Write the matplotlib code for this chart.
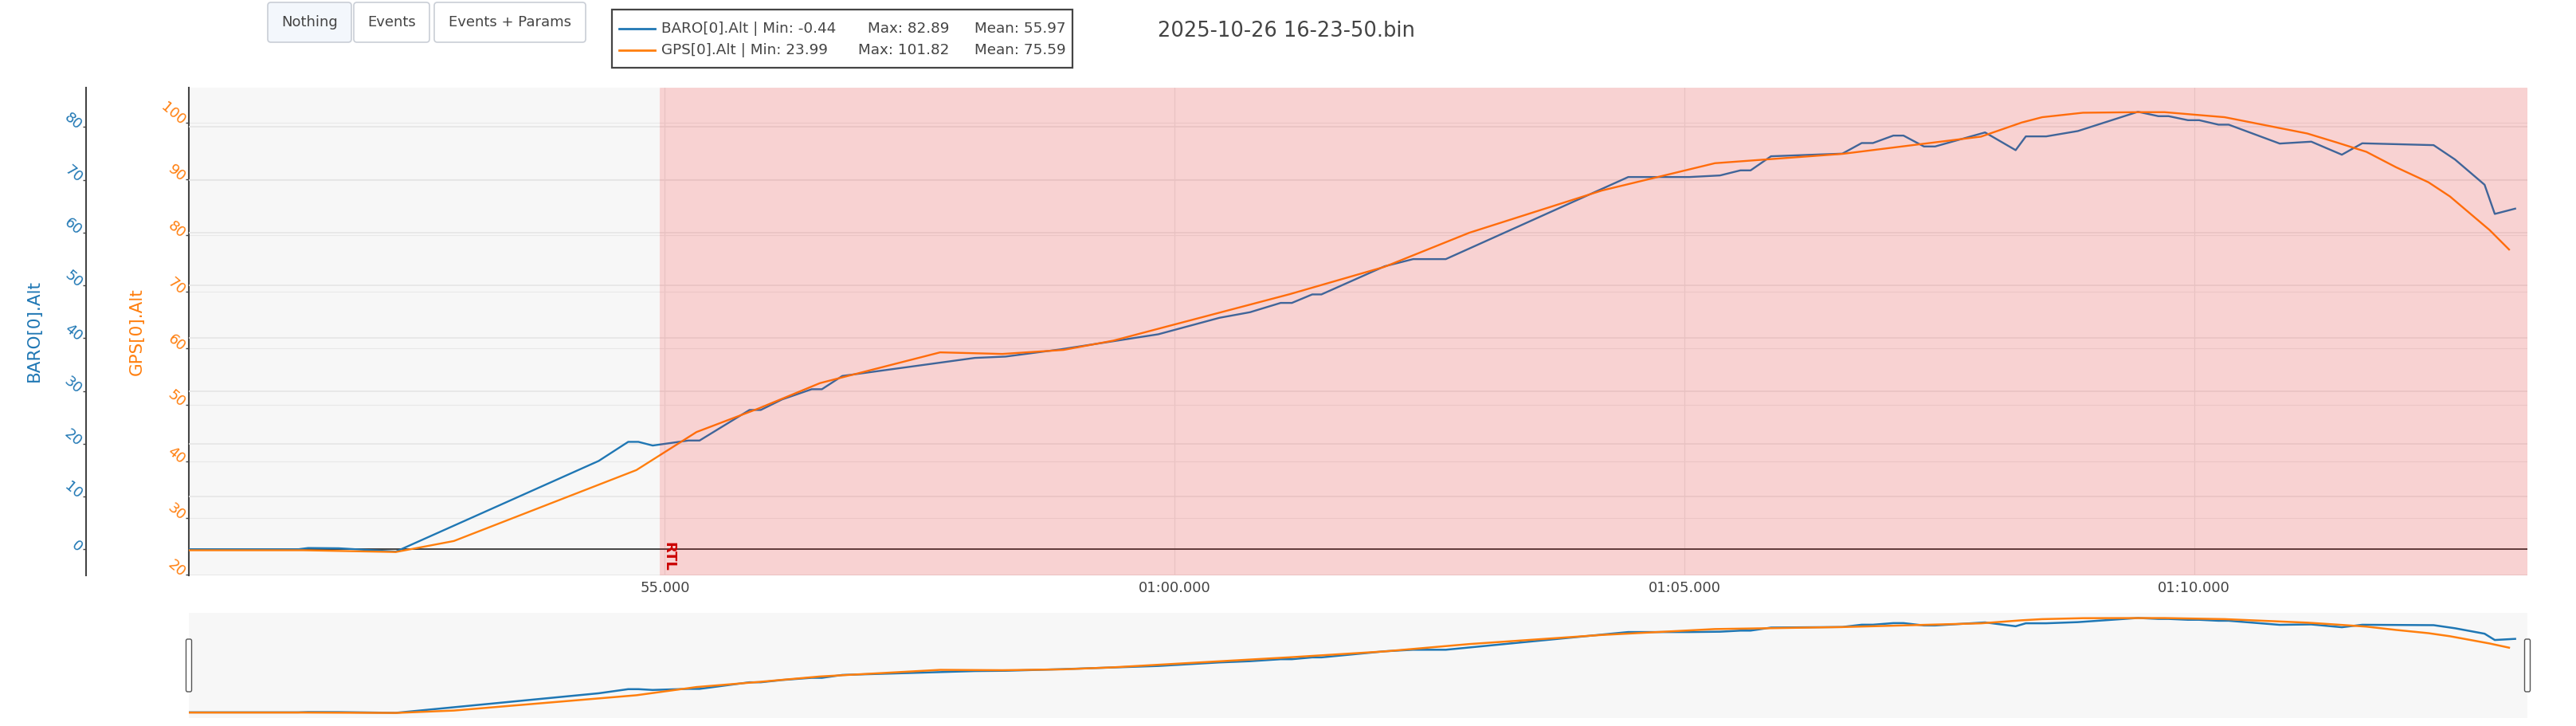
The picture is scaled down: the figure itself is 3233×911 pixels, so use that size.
import matplotlib
matplotlib.use("Agg")
import matplotlib.pyplot as plt
import matplotlib.transforms as mtransforms
from matplotlib.patches import FancyBboxPatch, Rectangle
from matplotlib.lines import Line2D

W, H, DPI = 3233, 911, 100

# ---------------- data ----------------
baro_t = [50.33, 51.40, 51.50, 51.80, 52.36, 54.35, 54.64, 54.74, 54.88, 55.23,
          55.34, 55.83, 55.94, 56.15, 56.44, 56.54, 56.74, 58.04, 58.34, 58.88,
          59.84, 60.44, 60.74, 61.04, 61.15, 61.35, 61.44, 62.06, 62.34, 62.66,
          64.45, 65.05, 65.35, 65.55, 65.65, 65.85, 66.55, 66.74, 66.85, 67.05,
          67.15, 67.35, 67.46, 67.95, 68.25, 68.35, 68.55, 68.86, 69.45, 69.65,
          69.75, 69.94, 70.05, 70.24, 70.34, 70.84, 71.15, 71.45, 71.65, 72.35,
          72.56, 72.85, 72.95, 73.15]
baro_alt = [0.0, 0.0, 0.25, 0.2, -0.44, 16.74, 20.36, 20.36, 19.66, 20.61,
            20.61, 26.4, 26.4, 28.4, 30.33, 30.33, 32.84, 36.26, 36.51, 37.88,
            40.74, 43.86, 44.92, 46.68, 46.68, 48.29, 48.29, 53.62, 54.98, 54.98,
            70.53, 70.53, 70.83, 71.79, 71.79, 74.46, 74.96, 76.97, 76.97, 78.38,
            78.38, 76.32, 76.32, 78.98, 75.62, 78.23, 78.23, 79.24, 82.89, 82.06,
            82.06, 81.3, 81.3, 80.45, 80.45, 76.87, 77.23, 74.76, 76.92, 76.57,
            73.85, 69.07, 63.54, 64.54]

gps_t = [50.33, 51.45, 52.36, 52.93, 54.72, 55.31, 55.92, 56.52, 56.73, 57.70,
         58.31, 58.91, 59.40, 59.87, 61.13, 62.06, 62.89, 64.19, 65.30, 66.55,
         67.91, 68.31, 68.51, 68.91, 69.45, 69.71, 70.30, 71.11, 71.40, 71.69,
         71.98, 72.30, 72.51, 72.90, 73.09]
gps_alt = [24.3, 24.3, 23.99, 25.94, 38.49, 45.22, 49.4, 53.87, 54.85, 59.32,
           59.04, 59.75, 61.4, 63.64, 69.62, 74.46, 80.48, 87.95, 92.79, 94.44,
           97.49, 99.99, 100.93, 101.72, 101.82, 101.82, 100.93, 98.05, 96.46, 94.81,
           92.09, 89.41, 86.91, 80.95, 77.52]

x_range = (50.33, 73.27)
baro_range = (-5.0, 87.4)
gps_range = (19.8, 106.1)
x_ticks = [55, 60, 65, 70]
x_tick_labels = ["55.000", "01:00.000", "01:05.000", "01:10.000"]
baro_ticks = [0, 10, 20, 30, 40, 50, 60, 70, 80]
gps_ticks = [20, 30, 40, 50, 60, 70, 80, 90, 100]

rtl_time = 54.95
rtl_label = "RTL"

series_names = ["BARO[0].Alt", "GPS[0].Alt"]
series_min = ["-0.44", "23.99"]
series_max = ["82.89", "101.82"]
series_mean = ["55.97", "75.59"]
button_labels = ["Nothing", "Events", "Events + Params"]
title_text = "2025-10-26 16-23-50.bin"

BLUE = "#1f77b4"
ORANGE = "#ff7f0e"
TXT = "#444444"
BG = "#f7f7f7"

plt.rcParams['font.family'] = ['DejaVu Sans']

fig = plt.figure(figsize=(W / DPI, H / DPI), dpi=DPI)
fig.patch.set_facecolor("white")
ident = mtransforms.IdentityTransform()

# main plot box in pixels
L, R, T, B = 237, 3172, 110.4, 722.4
pos = [L / W, 1 - B / H, (R - L) / W, (B - T) / H]

# ---- GPS axis (base, background + grids) ----
ax_g = fig.add_axes(pos)
ax_g.set_facecolor(BG)
ax_g.set_xlim(*x_range)
ax_g.set_ylim(*gps_range)
for s in ["top", "right", "bottom"]:
    ax_g.spines[s].set_visible(False)
ax_g.spines["left"].set_color(TXT)
ax_g.spines["left"].set_linewidth(1.5)
ax_g.set_yticks(gps_ticks)
ax_g.set_xticks(x_ticks)
ax_g.set_xticklabels(x_tick_labels)
ax_g.tick_params(axis="y", direction="out", length=3, width=1.0, color=TXT,
                 labelcolor=ORANGE, labelsize=13, pad=2)
ax_g.tick_params(axis="x", length=0, labelsize=13, labelcolor=TXT, pad=5)
ax_g.grid(True, axis="y", color="#e8e8e8", linewidth=0.8)
ax_g.grid(True, axis="x", color="#e4e4e4", linewidth=0.8)
ax_g.set_axisbelow(True)

# ---- BARO axis (twin, offset spine on the left) ----
ax_b = ax_g.twinx()
ax_b.set_ylim(*baro_range)
ax_b.yaxis.set_ticks_position("left")
ax_b.yaxis.set_label_position("left")
ax_b.spines["left"].set_visible(True)
ax_b.spines["left"].set_position(("axes", (107.7 - L) / (R - L)))
ax_b.spines["left"].set_color(TXT)
ax_b.spines["left"].set_linewidth(1.5)
for s in ["top", "right", "bottom"]:
    ax_b.spines[s].set_visible(False)
ax_b.set_yticks(baro_ticks)
ax_b.tick_params(axis="y", which="both", left=True, right=False, labelleft=True,
                 labelright=False, direction="out", length=3, width=1.0, color=TXT,
                 labelcolor=BLUE, labelsize=13, pad=2)
ax_b.set_axisbelow(True)
ax_b.grid(True, axis="y", color="#e4e4e4", linewidth=1.1)
ax_b.axhline(0, color=TXT, lw=1.4, zorder=1.8)
ax_b.plot(baro_t, baro_alt, color=BLUE, lw=1.7, zorder=2)

# ---- top overlay: GPS line, event shading, label ----
ax_top = fig.add_axes(pos, sharex=ax_g, sharey=ax_g)
ax_top.set_axis_off()
ax_top.plot(gps_t, gps_alt, color=ORANGE, lw=1.7, zorder=2)
ax_top.axvspan(rtl_time, x_range[1], facecolor=(1, 0, 0, 0.15),
               edgecolor=(1, 0, 0, 0.06), lw=1.0, zorder=5)
trans = mtransforms.blended_transform_factory(ax_top.transData, ax_top.transAxes)
trans = trans + mtransforms.ScaledTranslation(2.5 / DPI, 0, fig.dpi_scale_trans)
ax_top.text(rtl_time, (B - 680) / (B - T), rtl_label, transform=trans,
            rotation=-90, ha="left", va="top", color="#cc0000",
            fontsize=13, fontweight="bold", zorder=6)
ax_g.set_xlim(*x_range)
ax_g.set_ylim(*gps_range)

# axis titles
fig.text(43 / W, 1 - 415 / H, series_names[0], rotation=90, ha="center",
         va="center", color=BLUE, fontsize=15.5)
fig.text(171.5 / W, 1 - 416 / H, series_names[1], rotation=90, ha="center",
         va="center", color=ORANGE, fontsize=15.5)

# ---- range slider ----
rs_pos = [L / W, 1 - 901 / H, (R - L) / W, (901 - 769) / H]
ax_rs = fig.add_axes(rs_pos)
ax_rs.set_facecolor(BG)
ax_rs.set_xlim(*x_range)
ax_rs.set_ylim(*baro_range)
ax_rs.set_xticks([]); ax_rs.set_yticks([])
for s in ax_rs.spines.values():
    s.set_visible(False)
ax_rs.plot(baro_t, baro_alt, color=BLUE, lw=1.8)
ax_rs2 = ax_rs.twinx()
ax_rs2.set_ylim(*gps_range)
ax_rs2.set_yticks([])
for s in ax_rs2.spines.values():
    s.set_visible(False)
ax_rs2.plot(gps_t, gps_alt, color=ORANGE, lw=1.8)

for hx in (L, R):
    fig.add_artist(FancyBboxPatch((hx - 3.5, H - 868), 7, 66,
                                  boxstyle="round,pad=0,rounding_size=2",
                                  transform=ident, facecolor="white",
                                  edgecolor="#555555", lw=1.0))

# ---- buttons ----
btn_boxes = [(336, 441), (444, 539), (545, 735)]
for (x0, x1), lab, fc in zip(btn_boxes, button_labels, ["#f3f7fc", "white", "white"]):
    fig.add_artist(FancyBboxPatch((x0, H - 53), x1 - x0, 50,
                                  boxstyle="round,pad=0,rounding_size=4",
                                  transform=ident, facecolor=fc,
                                  edgecolor="#c9ced6", lw=1.2))
    fig.text((x0 + x1) / 2 / W, 1 - 28 / H, lab, ha="center", va="center",
             color=TXT, fontsize=13)

# ---- legend ----
fig.add_artist(Rectangle((768, H - 85), 578, 73, transform=ident,
                         facecolor="white", edgecolor=TXT, lw=1.6))
for i, (name, mn, mx, me, col) in enumerate(zip(series_names, series_min, series_max,
                                                 series_mean, [BLUE, ORANGE])):
    yy = 35.7 + i * 27.6
    fig.add_artist(Line2D([777, 822], [H - yy, H - yy], transform=ident,
                          color=col, lw=2.0))
    fig.text(830 / W, 1 - yy / H, f"{name} | Min: {mn}", ha="left", va="center",
             color=TXT, fontsize=13.2)
    fig.text(1191 / W, 1 - yy / H, f"Max: {mx}", ha="right", va="center",
             color=TXT, fontsize=13.2)
    fig.text(1223 / W, 1 - yy / H, f"Mean: {me}", ha="left", va="center",
             color=TXT, fontsize=13.2)

# ---- title ----
fig.text(1453 / W, 1 - 38.5 / H, title_text, ha="left", va="center",
         color=TXT, fontsize=18.5)

# rotated y tick labels
for ax in (ax_g, ax_b):
    plt.setp(ax.get_yticklabels(), rotation=-40, ha="right", va="center",
             rotation_mode="anchor")

fig.savefig("out.png", dpi=DPI, facecolor="white")
